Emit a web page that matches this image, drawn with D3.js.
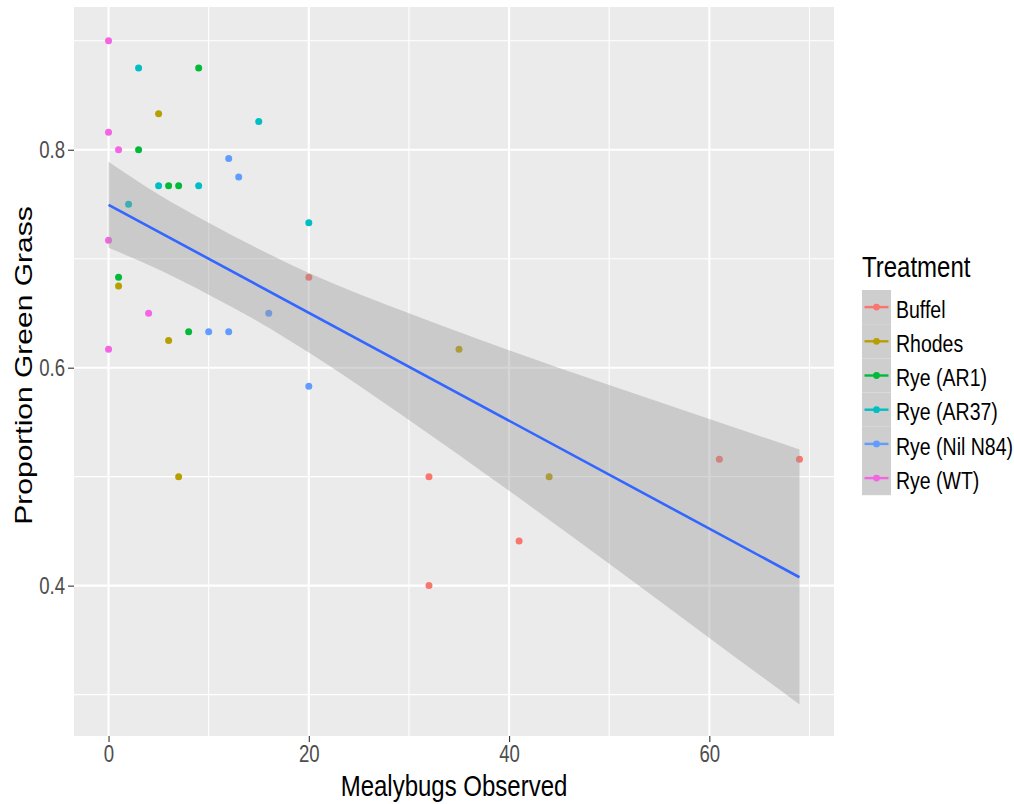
<!DOCTYPE html>
<html>
<head>
<meta charset="utf-8">
<script src="https://cdn.jsdelivr.net/npm/d3@7"></script>
<style>
  body { margin: 0; background: #fff; }
  text { font-family: "Liberation Sans", Arial, sans-serif; }
</style>
</head>
<body>
<div id="chart"></div>
<script>
// treatments, in legend order, with ggplot hue colours
const treatments = ["Buffel", "Rhodes", "Rye (AR1)", "Rye (AR37)", "Rye (Nil N84)", "Rye (WT)"];
const colors = ["#F8766D", "#B79F00", "#00BA38", "#00BFC4", "#619CFF", "#F564E3"];

// mealybugs observed / proportion green grass, per treatment
const buffelX = [20, 32, 32, 41, 61, 69];
const buffelY = [0.683, 0.500, 0.400, 0.441, 0.516, 0.516];
const rhodesX = [5, 1, 6, 7, 35, 44];
const rhodesY = [0.833, 0.675, 0.625, 0.500, 0.617, 0.500];
const ar1X = [9, 3, 6, 7, 1, 8];
const ar1Y = [0.875, 0.800, 0.767, 0.767, 0.683, 0.633];
const ar37X = [3, 15, 5, 9, 2, 20];
const ar37Y = [0.875, 0.826, 0.767, 0.767, 0.750, 0.733];
const nilX = [12, 13, 16, 10, 12, 20];
const nilY = [0.792, 0.775, 0.650, 0.633, 0.633, 0.583];
const wtX = [0, 0, 1, 0, 4, 0];
const wtY = [0.900, 0.816, 0.800, 0.717, 0.650, 0.617];

// linear smooth and its 95% band
const fitX = [0, 5, 10, 15, 20, 30, 40, 50, 60, 69];
const fitHi = [0.789, 0.759, 0.733, 0.709, 0.687, 0.650, 0.616, 0.584, 0.553, 0.525];
const fitLo = [0.710, 0.690, 0.667, 0.642, 0.614, 0.552, 0.487, 0.420, 0.352, 0.291];
const lineX = [0, 69];
const lineY = [0.7495, 0.4077];

const xTicks = [0, 20, 40, 60];
const xMinor = [10, 30, 50, 70];
const yTicks = [0.4, 0.6, 0.8];
const yMinor = [0.3, 0.5, 0.7, 0.9];
const yDomain = [0.262, 0.931];

const seriesX = [buffelX, rhodesX, ar1X, ar37X, nilX, wtX];
const seriesY = [buffelY, rhodesY, ar1Y, ar37Y, nilY, wtY];

const points = [];
treatments.forEach((t, i) => {
  seriesX[i].forEach((x, j) => points.push({ treatment: t, x: x, y: seriesY[i][j], color: colors[i] }));
});
const band = fitX.map((x, i) => ({ x: x, lo: fitLo[i], hi: fitHi[i] }));
const fitLine = lineX.map((x, i) => ({ x: x, y: lineY[i] }));

const width = 1014, height = 804;
const panel = { left: 74, right: 834, top: 7, bottom: 736 };
const stretch = 1.25;

const svg = d3.select("#chart").append("svg")
  .attr("width", width).attr("height", height);

const [xmin, xmax] = d3.extent(points, d => d.x);
const pad = (xmax - xmin) * 0.05;
const x = d3.scaleLinear().domain([xmin - pad, xmax + pad]).range([panel.left, panel.right]);
const y = d3.scaleLinear().domain(yDomain).range([panel.bottom, panel.top]);

// panel + grid
svg.append("rect")
  .attr("x", panel.left).attr("y", panel.top)
  .attr("width", panel.right - panel.left).attr("height", panel.bottom - panel.top)
  .attr("fill", "#EBEBEB");

const grid = svg.append("g").attr("stroke", "#fff");
grid.selectAll(".xminor").data(xMinor).enter().append("line")
  .attr("x1", d => x(d)).attr("x2", d => x(d))
  .attr("y1", panel.top).attr("y2", panel.bottom).attr("stroke-width", 1.1);
grid.selectAll(".yminor").data(yMinor).enter().append("line")
  .attr("y1", d => y(d)).attr("y2", d => y(d))
  .attr("x1", panel.left).attr("x2", panel.right).attr("stroke-width", 1.1);
grid.selectAll(".xmajor").data(xTicks).enter().append("line")
  .attr("x1", d => x(d)).attr("x2", d => x(d))
  .attr("y1", panel.top).attr("y2", panel.bottom).attr("stroke-width", 2.1);
grid.selectAll(".ymajor").data(yTicks).enter().append("line")
  .attr("y1", d => y(d)).attr("y2", d => y(d))
  .attr("x1", panel.left).attr("x2", panel.right).attr("stroke-width", 2.1);

// points
svg.append("g").selectAll("circle").data(points).enter().append("circle")
  .attr("cx", d => x(d.x)).attr("cy", d => y(d.y))
  .attr("r", 3.5).attr("fill", d => d.color);

// smooth
svg.append("path").datum(band)
  .attr("d", d3.area().curve(d3.curveMonotoneX).x(d => x(d.x)).y0(d => y(d.lo)).y1(d => y(d.hi)))
  .attr("fill", "#999999").attr("fill-opacity", 0.4);
svg.append("path").datum(fitLine)
  .attr("d", d3.line().x(d => x(d.x)).y(d => y(d.y)))
  .attr("fill", "none").attr("stroke", "#3366FF").attr("stroke-width", 2.6);

// axes
const tickFont = 18.6;
const xAxis = svg.append("g")
  .attr("transform", `translate(0,${panel.bottom})`)
  .call(d3.axisBottom(x).tickValues(xTicks).tickSize(6).tickPadding(3));
const yAxis = svg.append("g")
  .attr("transform", `translate(${panel.left},0)`)
  .call(d3.axisLeft(y).tickValues(yTicks).tickFormat(d3.format(".1f")).tickSize(6).tickPadding(3));

[xAxis, yAxis].forEach(a => {
  a.select(".domain").remove();
  a.selectAll(".tick line").attr("stroke", "#333333").attr("stroke-width", 1.1);
  a.selectAll(".tick text")
    .attr("fill", "#4D4D4D")
    .style("font-size", tickFont + "px");
});
xAxis.selectAll(".tick text")
  .attr("y", 0)
  .attr("transform", `translate(0,9) scale(1,${stretch})`);
yAxis.selectAll(".tick text")
  .attr("x", 0)
  .attr("transform", `translate(-9,0) scale(1,${stretch})`);

// titles
svg.append("text")
  .attr("transform", `translate(${(panel.left + panel.right) / 2},796) scale(1,${stretch})`)
  .attr("text-anchor", "middle")
  .style("font-size", "24px")
  .text("Mealybugs Observed");

svg.append("text")
  .attr("transform", `translate(32,${(panel.top + panel.bottom) / 2 - 6}) scale(1,${stretch}) rotate(-90)`)
  .attr("text-anchor", "middle")
  .style("font-size", "24px")
  .text("Proportion Green Grass");

// legend
const legend = svg.append("g").attr("transform", "translate(862,0)");
legend.append("text")
  .attr("transform", `translate(0,277) scale(1,${stretch})`)
  .style("font-size", "24px")
  .text("Treatment");

const keyH = 34.2, keyW = 29, keyTop = 290;
const keys = legend.selectAll(".key").data(treatments).enter().append("g")
  .attr("transform", (d, i) => `translate(0,${keyTop + i * keyH})`);
keys.append("rect")
  .attr("width", keyW).attr("height", keyH)
  .attr("fill", "#F2F2F2");
keys.append("rect")
  .attr("width", keyW).attr("height", keyH)
  .attr("fill", "#999999").attr("fill-opacity", 0.4);
keys.append("line")
  .attr("x1", 2.5).attr("x2", keyW - 2.5)
  .attr("y1", keyH / 2).attr("y2", keyH / 2)
  .attr("stroke", (d, i) => colors[i]).attr("stroke-width", 2.4);
keys.append("circle")
  .attr("cx", keyW / 2).attr("cy", keyH / 2).attr("r", 3.4)
  .attr("fill", (d, i) => colors[i]);
keys.append("text")
  .attr("transform", `translate(34,${keyH / 2 + 2}) scale(1,${stretch})`)
  .attr("dy", "0.36em")
  .style("font-size", "19.5px")
  .text(d => d);
</script>
</body>
</html>
